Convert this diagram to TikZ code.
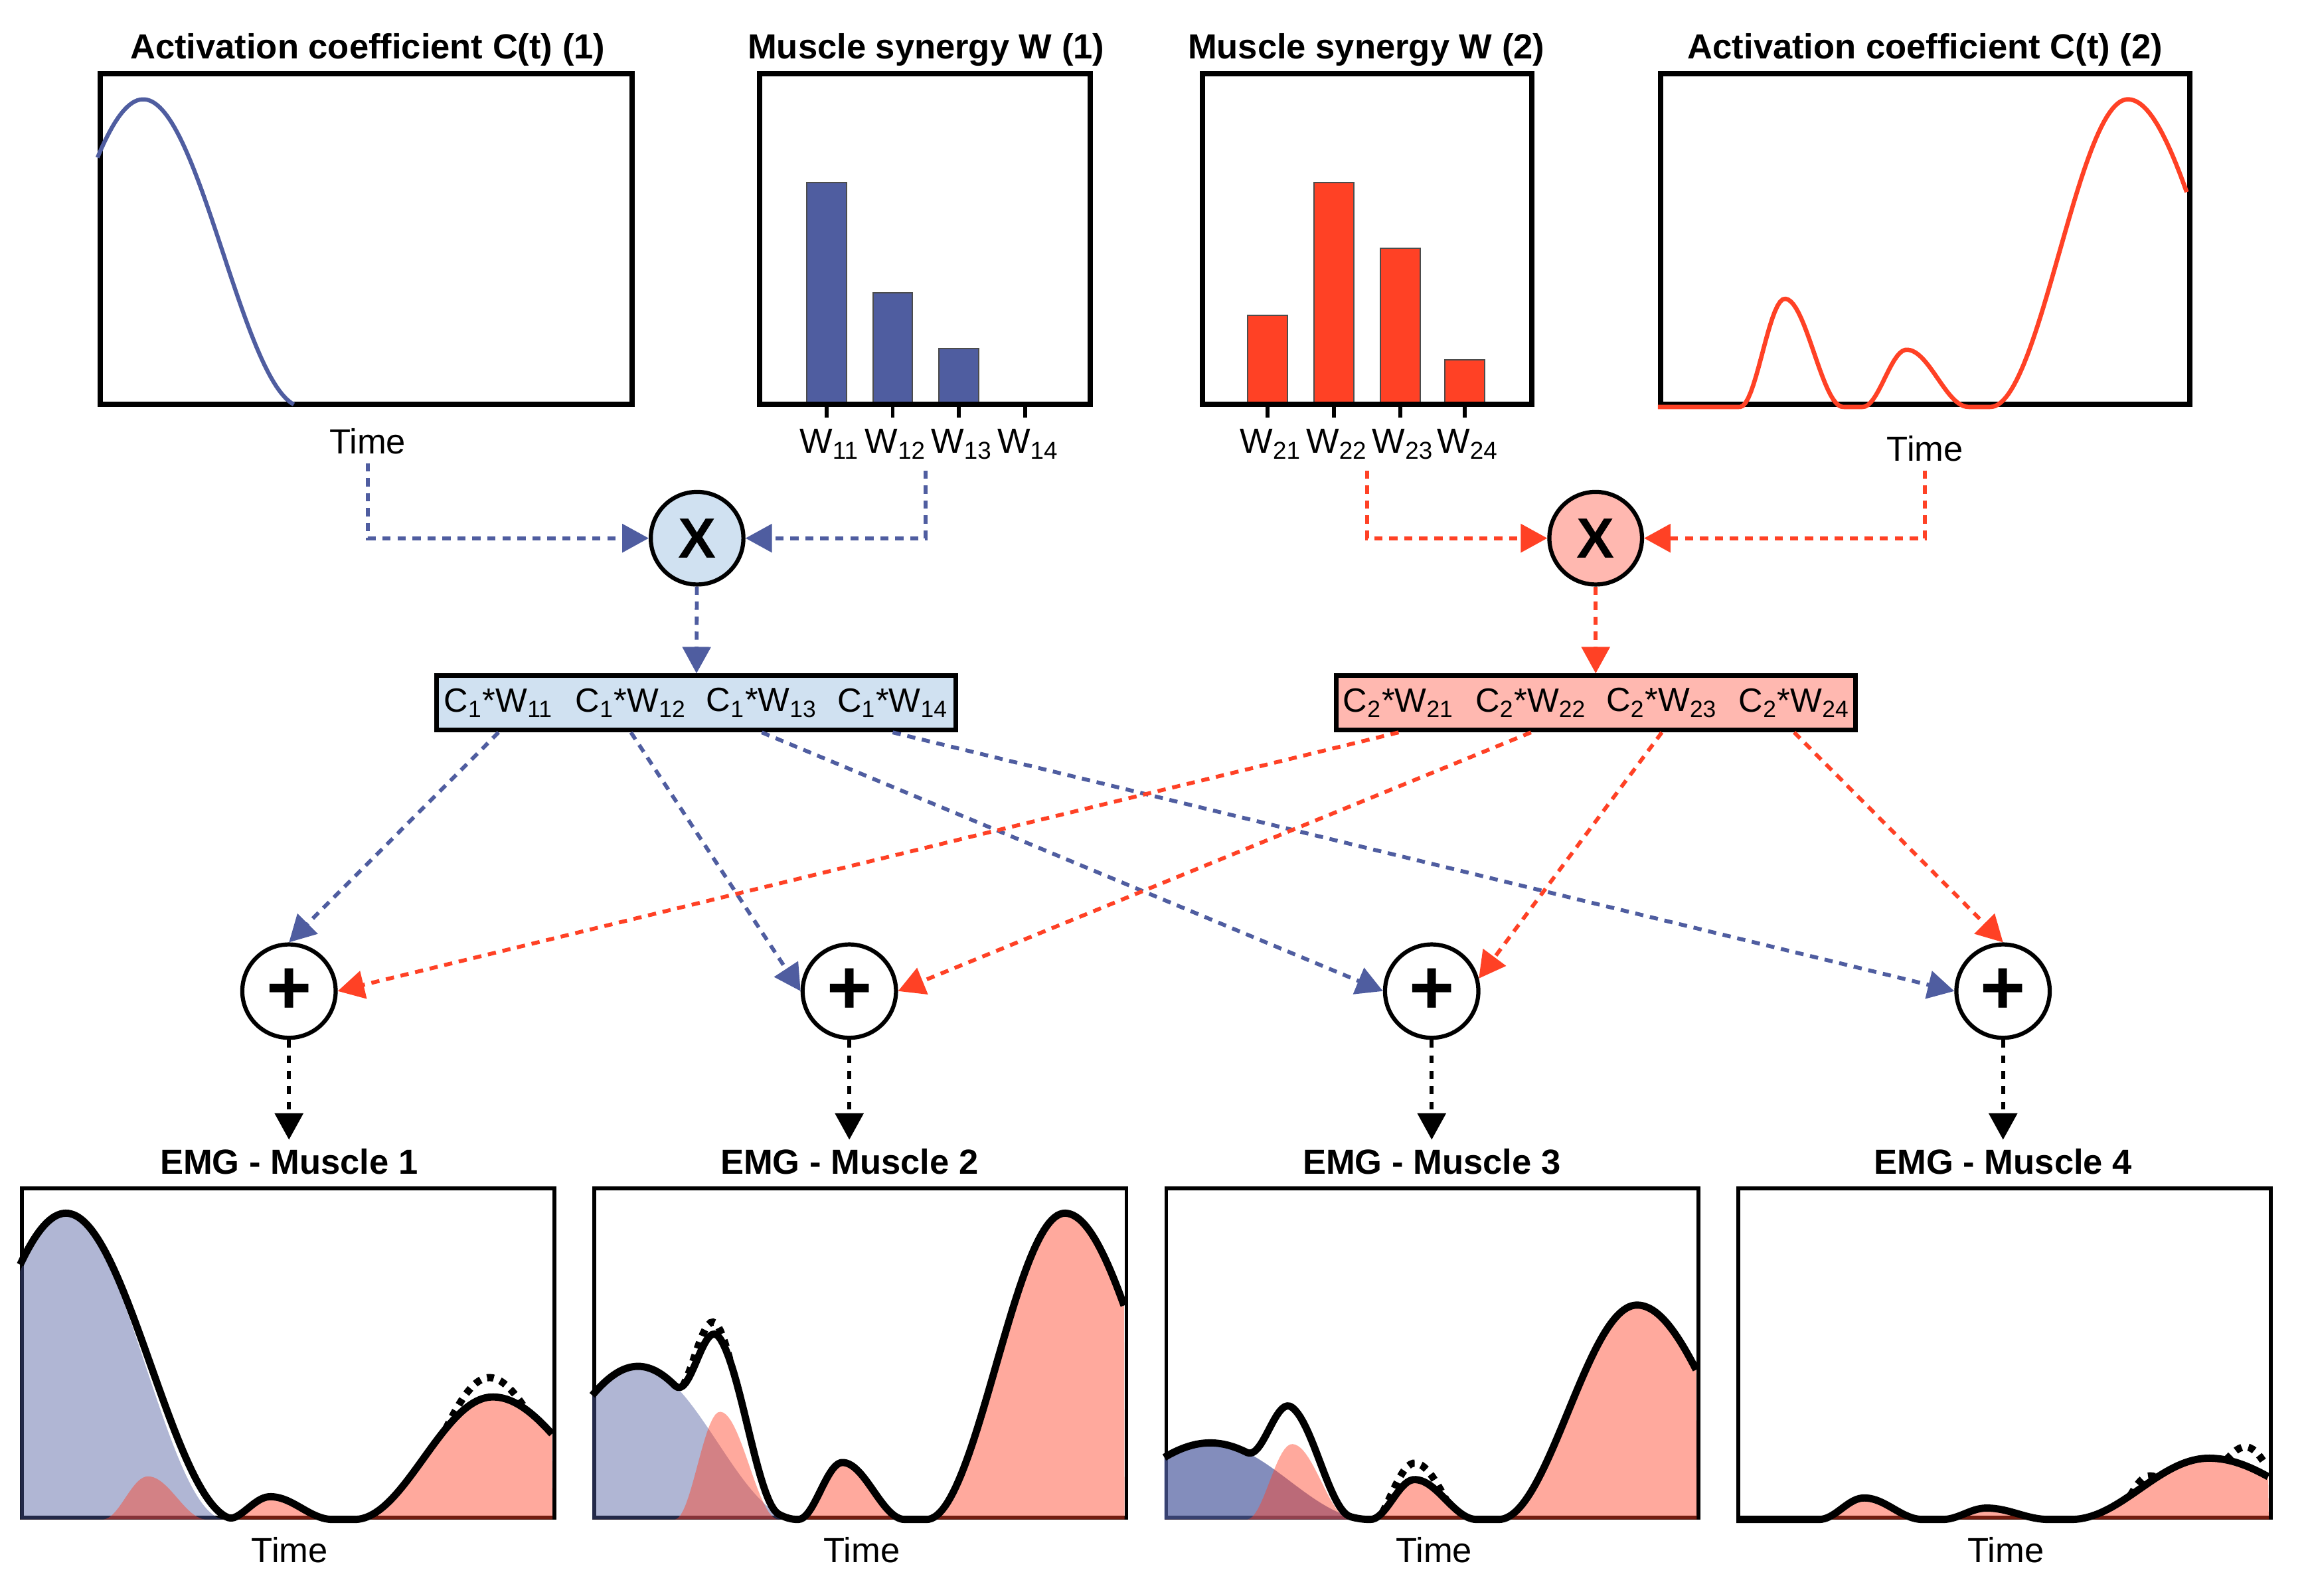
\documentclass[tikz,border=0pt]{standalone}
\usepackage{fontspec}
\setmainfont{Liberation Sans}
\usetikzlibrary{arrows.meta}

\definecolor{synblue}{HTML}{4F5DA0}
\definecolor{synred}{HTML}{FF4125}
\definecolor{lightblue}{HTML}{D0E1F1}
\definecolor{lightred}{HTML}{FFB8B0}

\tikzset{
  panel/.style={draw, line width=2pt, inner sep=0pt, minimum height=4.5cm, minimum width=#1},
  emgpanel/.style={draw, line width=1.5pt, inner sep=0pt, minimum height=4.48cm, minimum width=7.24cm},
  heading/.style={font=\fontsize{13.5}{16}\selectfont\bfseries},
  axlabel/.style={font=\fontsize{13.5}{16}\selectfont},
  term/.style={font=\fontsize{13}{15}\selectfont, inner sep=1pt},
  prodbox/.style={draw, line width=1.8pt, inner sep=0pt, minimum width=7.06cm, minimum height=0.74cm},
  mulnode/.style={circle, draw, line width=1.6pt, inner sep=0pt, minimum size=1.26cm, font=\fontsize{22}{22}\selectfont\bfseries},
  sumnode/.style={circle, draw, line width=1.6pt, inner sep=0pt, minimum size=1.27cm, font=\fontsize{30}{30}\selectfont\bfseries},
  bluearrow/.style={synblue, line width=1.5pt, dash pattern=on 3.2pt off 2.6pt, -{Triangle[length=0.36cm, width=0.38cm]}},
  redarrow/.style={synred, line width=1.5pt, dash pattern=on 3.2pt off 2.6pt, -{Triangle[length=0.36cm, width=0.38cm]}},
  blackarrow/.style={black, line width=1.5pt, dash pattern=on 3pt off 3pt, -{Triangle[length=0.36cm, width=0.38cm]}},
  wbar/.style={fill=#1, draw=black!70, line width=0.5pt},
  axtick/.style={line width=1.5pt},
  emgline/.style={line width=2.8pt, line join=round},
  emgdots/.style={line width=2.8pt, dash pattern=on 2.6pt off 2.6pt}
}

\begin{document}
\begin{tikzpicture}[x=0.02cm, y=-0.02cm,
    declare function={
      bump(\x,\y,\z)=(abs(\x-\y)<\z)*(0.5+0.5*cos(180*(\x-\y)/\z));
      skew(\x,\y,\z,\w)=bump(\x,\y,\z+(\x>\y)*(\w-\z));
      cone(\x)=0.93*bump(\x,0.086,0.3);
      ctwo(\x)=0.327*skew(\x,0.24,0.085,0.11)+0.173*skew(\x,0.47,0.083,0.117)+0.93*skew(\x,0.888,0.26,0.3);
    }]
  \useasboundingbox (0,0) rectangle (1568,1085);

  \draw[wbar=synblue] (548.5,275) rectangle (575.5,124);
  \draw[wbar=synblue] (593.5,275) rectangle (620.5,199);
  \draw[wbar=synblue] (638.5,275) rectangle (665.5,237);
  \draw[wbar=synred] (848.5,275) rectangle (875.5,214.5);
  \draw[wbar=synred] (893.5,275) rectangle (920.5,124);
  \draw[wbar=synred] (938.5,275) rectangle (965.5,169);
  \draw[wbar=synred] (982.5,275) rectangle (1009.5,244.5);

  \node[panel=7.24cm] (ca) at (249,162.5) {};
  \node[panel=4.5cm] (wa) at (629,162.5) {};
  \node[panel=4.48cm] (wb) at (929.5,162.5) {};
  \node[panel=7.2cm] (cb) at (1309,162.5) {};

  \node[heading] (caT) at (250,34) {Activation coefficient C(t) (1)};
  \node[heading] (waT) at (629.7,34) {Muscle synergy W (1)};
  \node[heading] (wbT) at (929,34) {Muscle synergy W (2)};
  \node[heading] (cbT) at (1309,34) {Activation coefficient C(t) (2)};

  \node[axlabel] (caTime) at (250,300) {Time};
  \node[axlabel] (cbTime) at (1309,305) {Time};

  \draw[axtick] (562,275) -- (562,284);
  \draw[axtick] (607,275) -- (607,284);
  \draw[axtick] (652,275) -- (652,284);
  \draw[axtick] (697,275) -- (697,284);
  \draw[axtick] (862,275) -- (862,284);
  \draw[axtick] (907,275) -- (907,284);
  \draw[axtick] (952,275) -- (952,284);
  \draw[axtick] (996,275) -- (996,284);

  \node[axlabel] (w11) at (564,302) {W\textsubscript{11}};
  \node[axlabel] (w12) at (609,302) {W\textsubscript{12}};
  \node[axlabel] (w13) at (654,302) {W\textsubscript{13}};
  \node[axlabel] (w14) at (699,302) {W\textsubscript{14}};
  \node[axlabel] (w21) at (864,302) {W\textsubscript{21}};
  \node[axlabel] (w22) at (909,302) {W\textsubscript{22}};
  \node[axlabel] (w23) at (954,302) {W\textsubscript{23}};
  \node[axlabel] (w24) at (998,302) {W\textsubscript{24}};

  \begin{scope}[shift={(ca.south west)}, x=7.24cm, y=4.5cm]
    \draw[synblue, line width=1.6pt] plot[domain=0:0.37, samples=80] (\x,{cone(\x)});
  \end{scope}
  \begin{scope}[shift={(cb.south west)}, x=7.2cm, y=4.5cm]
    \draw[synred, line width=1.7pt, line join=round] plot[domain=0:1, samples=200] (\x,{ctwo(\x)});
  \end{scope}

  \node[mulnode, fill=lightblue] (mula) at (474,366) {X};
  \node[mulnode, fill=lightred] (mulb) at (1085,366) {X};
  \coordinate (waOut) at (629.5,320);
  \coordinate (wbOut) at (929.5,320);

  \draw[bluearrow] (caTime.south) |- (mula.west);
  \draw[bluearrow] (waOut) |- (mula.east);
  \draw[redarrow] (wbOut) |- (mulb.west);
  \draw[redarrow] (cbTime.south) |- (mulb.east);

  \node[prodbox, fill=lightblue] (pa) at (473.5,478) {};
  \node[prodbox, fill=lightred] (pb) at (1085,478) {};
  \node[term] (pa1) at (339,478) {C\textsubscript{1}*W\textsubscript{11}};
  \node[term] (pa2) at (429,478) {C\textsubscript{1}*W\textsubscript{12}};
  \node[term] (pa3) at (518,478) {C\textsubscript{1}*W\textsubscript{13}};
  \node[term] (pa4) at (607,478) {C\textsubscript{1}*W\textsubscript{14}};
  \node[term] (pb1) at (951,478) {C\textsubscript{2}*W\textsubscript{21}};
  \node[term] (pb2) at (1041,478) {C\textsubscript{2}*W\textsubscript{22}};
  \node[term] (pb3) at (1130,478) {C\textsubscript{2}*W\textsubscript{23}};
  \node[term] (pb4) at (1220,478) {C\textsubscript{2}*W\textsubscript{24}};

  \draw[bluearrow] (mula) -- (pa);
  \draw[redarrow] (mulb) -- (pb);

  \node[sumnode] (sum1) at (196.5,674) {+};
  \node[sumnode] (sum2) at (577.5,674) {+};
  \node[sumnode] (sum3) at (973.5,674) {+};
  \node[sumnode] (sum4) at (1362,674) {+};

  \draw[bluearrow] (pa1 |- pa.south) -- (sum1.north);
  \draw[bluearrow] (pa2 |- pa.south) -- (sum2.west);
  \draw[bluearrow] (pa3 |- pa.south) -- (sum3.west);
  \draw[bluearrow] (pa4 |- pa.south) -- (sum4.west);
  \draw[redarrow] (pb1 |- pb.south) -- (sum1.east);
  \draw[redarrow] (pb2 |- pb.south) -- (sum2.east);
  \draw[redarrow] (pb3 |- pb.south) -- (sum3.15);
  \draw[redarrow] (pb4 |- pb.south) -- (sum4.north);

  \node[heading] (emgT1) at (196.5,790) {EMG - Muscle 1};
  \node[heading] (emgT2) at (577.5,790) {EMG - Muscle 2};
  \node[heading] (emgT3) at (973.5,790) {EMG - Muscle 3};
  \node[heading] (emgT4) at (1362,790) {EMG - Muscle 4};

  \draw[blackarrow] (sum1) -- (emgT1);
  \draw[blackarrow] (sum2) -- (emgT2);
  \draw[blackarrow] (sum3) -- (emgT3);
  \draw[blackarrow] (sum4) -- (emgT4);

  \node[emgpanel] (emg1) at (196,920) {};
  \node[emgpanel] (emg2) at (585,920) {};
  \node[emgpanel] (emg3) at (974,920) {};
  \node[emgpanel] (emg4) at (1363,920) {};

  \node[axlabel] (emgTime1) at (197,1054) {Time};
  \node[axlabel] (emgTime2) at (586,1054) {Time};
  \node[axlabel] (emgTime3) at (975,1054) {Time};
  \node[axlabel] (emgTime4) at (1364,1054) {Time};

  \begin{scope}[shift={(emg1.south west)}, x=7.24cm, y=4.48cm]
    \fill[synblue, fill opacity=0.45] (0,0) -- plot[domain=0:0.386, samples=80] (\x,{cone(\x)}) -- cycle;
    \fill[synred, fill opacity=0.45] (0,0) -- plot[domain=0:1, samples=200] (\x,{0.4*ctwo(\x)}) -- (1,0) -- cycle;
    \draw[emgline] plot[domain=0:1, samples=200] (\x,{0.93*bump(\x,0.086,0.32)+0.4*(ctwo(\x)-0.327*skew(\x,0.24,0.085,0.11))});
    \draw[emgdots] plot[domain=0.8:0.95, samples=30] (\x,{cone(\x)+0.4*ctwo(\x)+0.06*sin(180*(\x-0.8)/0.15)});
  \end{scope}
  \begin{scope}[shift={(emg2.south west)}, x=7.24cm, y=4.48cm]
    \fill[synblue, fill opacity=0.45] (0,0) -- plot[domain=0:0.386, samples=80] (\x,{0.5*cone(\x)}) -- cycle;
    \fill[synred, fill opacity=0.45] (0,0) -- plot[domain=0:1, samples=200] (\x,{ctwo(\x)}) -- (1,0) -- cycle;
    \draw[emgline] plot[domain=0:1, samples=200] (\x,{0.5*cone(\x)+ctwo(\x)});
    \draw[emgdots] plot[domain=0.17:0.26, samples=20] (\x,{0.5*cone(\x)+ctwo(\x)+0.04*sin(180*(\x-0.17)/0.09)});
  \end{scope}
  \begin{scope}[shift={(emg3.south west)}, x=7.24cm, y=4.48cm]
    \fill[synblue, fill opacity=0.7] (0,0) -- plot[domain=0:0.386, samples=80] (\x,{0.25*cone(\x)}) -- cycle;
    \fill[synred, fill opacity=0.45] (0,0) -- plot[domain=0:1, samples=200] (\x,{0.7*ctwo(\x)}) -- (1,0) -- cycle;
    \draw[emgline] plot[domain=0:1, samples=200] (\x,{0.25*cone(\x)+0.7*ctwo(\x)});
    \draw[emgdots] plot[domain=0.41:0.53, samples=24] (\x,{0.25*cone(\x)+0.7*ctwo(\x)+0.05*sin(180*(\x-0.41)/0.12)});
  \end{scope}
  \begin{scope}[shift={(emg4.south west)}, x=7.24cm, y=4.48cm]
    \fill[synred, fill opacity=0.45] (0,0) -- plot[domain=0:1, samples=200] (\x,{0.2*ctwo(\x)}) -- (1,0) -- cycle;
    \draw[emgline] plot[domain=0:1, samples=200] (\x,{0.2*ctwo(\x)});
    \draw[emgdots] plot[domain=0.74:0.79, samples=12] (\x,{0.2*ctwo(\x)+0.025*sin(180*(\x-0.74)/0.05)});
    \draw[emgdots] plot[domain=0.92:0.995, samples=16] (\x,{0.2*ctwo(\x)+0.06*sin(180*(\x-0.92)/0.09)});
  \end{scope}
\end{tikzpicture}
\end{document}
